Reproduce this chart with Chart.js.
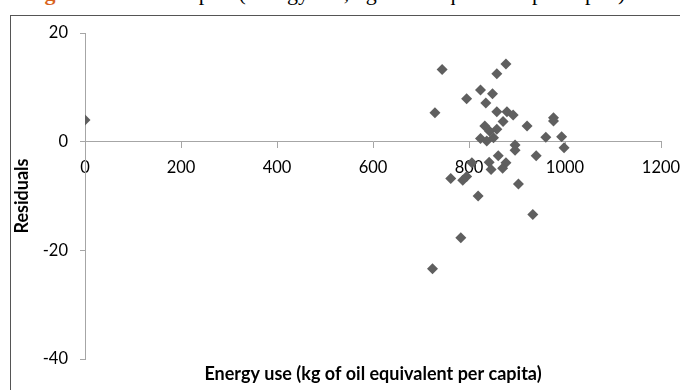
<!DOCTYPE html>
<html>
<head>
<meta charset="utf-8">
<script src="https://cdn.jsdelivr.net/npm/chart.js@4.4.1/dist/chart.umd.min.js"></script>
<style>
  html, body { margin: 0; padding: 0; background: #fff; overflow: hidden; }
  #wrap { position: relative; width: 680px; height: 390px; overflow: hidden; }
  #caption { position: absolute; left: 25px; top: -18px; font: 22px/22px "Liberation Serif", serif; white-space: nowrap; color: #000; }
  #caption b { color: #d9641e; }
  #frame { position: absolute; left: 10px; top: 15px; width: 700px; height: 400px; border-left: 1px solid #555; border-top: 1px solid #555; }
  canvas { position: absolute; left: 0; top: 0; }
</style>
</head>
<body>
<div id="wrap">
  <div id="caption"><b>Figure 4:</b> Residual plot (Energy use, kg of oil equivalent per capita)</div>
  <div id="frame"></div>
  <canvas id="mychart" width="680" height="390"></canvas>
</div>
<script>
// energy use (kg of oil equivalent per capita) vs residuals
const energyUse = [0, 744, 877, 858, 824, 795, 849, 835, 729, 858,
                   879, 892, 871, 921, 976, 976, 833, 858, 843, 824,
                   837, 851, 960, 993, 998, 896, 896, 861, 940, 806,
                   842, 877, 846, 870, 762, 795, 787, 903, 819, 933,
                   783, 724];
const residuals = [4.0, 13.3, 14.3, 12.5, 9.5, 7.9, 8.8, 7.1, 5.3, 5.5,
                   5.5, 4.9, 3.7, 2.9, 4.4, 3.8, 2.9, 2.3, 1.9, 0.6,
                   0.1, 0.7, 0.8, 0.9, -1.1, -0.6, -1.6, -2.6, -2.6, -3.9,
                   -3.8, -3.9, -5.1, -4.9, -6.8, -6.4, -7.1, -7.8, -10.0, -13.4,
                   -17.7, -23.4];
const xTicks = [0, 200, 400, 600, 800, 1000, 1200];
const yTicks = [-40, -20, 0, 20];
const xTitle = 'Energy use (kg of oil equivalent per capita)';
const yTitle = 'Residuals';

const axisColor = '#a6a6a6';
const pointColor = '#5f5f5f';
const tickFont = { family: 'Lato', size: 16.5 };

// x axis sits on y=0, so its title is drawn under the plot by hand
const xTitlePlugin = {
  id: 'xTitle',
  afterDraw(chart) {
    const { ctx, chartArea } = chart;
    ctx.save();
    ctx.font = 'bold 18px Lato';
    ctx.fillStyle = '#000';
    ctx.textAlign = 'center';
    ctx.textBaseline = 'middle';
    ctx.fillText(xTitle, (chartArea.left + chartArea.right) / 2, 374);
    ctx.restore();
  }
};

const ctx = document.getElementById('mychart');
new Chart(ctx, {
  type: 'scatter',
  data: {
    datasets: [{
      data: energyUse.map((x, i) => ({ x: x, y: residuals[i] })),
      pointStyle: 'rectRot',
      pointRadius: 5.5,
      backgroundColor: pointColor,
      borderColor: pointColor,
      borderWidth: 0
    }]
  },
  options: {
    responsive: false,
    animation: false,
    events: [],
    layout: { padding: { left: 10, top: 33, right: 19, bottom: 31 } },
    plugins: { legend: { display: false }, tooltip: { enabled: false } },
    scales: {
      x: {
        type: 'linear',
        position: { y: 0 },
        min: xTicks[0],
        max: xTicks[xTicks.length - 1],
        afterBuildTicks: s => { s.ticks = xTicks.map(v => ({ value: v })); },
        afterFit: s => { s.paddingLeft = 0; s.paddingRight = 0; },
        ticks: { color: '#000', font: tickFont, padding: 10, maxRotation: 0, callback: v => String(v) },
        grid: { drawOnChartArea: false, drawTicks: true, tickLength: 6, color: axisColor },
        border: { color: axisColor, width: 1 }
      },
      y: {
        type: 'linear',
        position: 'left',
        min: yTicks[0],
        max: yTicks[yTicks.length - 1],
        afterBuildTicks: s => { s.ticks = yTicks.map(v => ({ value: v })); },
        afterFit: s => { s.width = 75; s.paddingTop = 0; s.paddingBottom = 0; },
        ticks: { color: '#000', font: tickFont, padding: 12, callback: v => String(v) },
        grid: { drawOnChartArea: false, drawTicks: true, tickLength: 5, color: axisColor },
        border: { color: axisColor, width: 1 },
        title: {
          display: true,
          text: yTitle,
          color: '#000',
          font: { family: 'Lato', size: 18, weight: 'bold' },
          padding: { top: 1, bottom: 0 }
        }
      }
    }
  },
  plugins: [xTitlePlugin]
});
</script>
</body>
</html>
